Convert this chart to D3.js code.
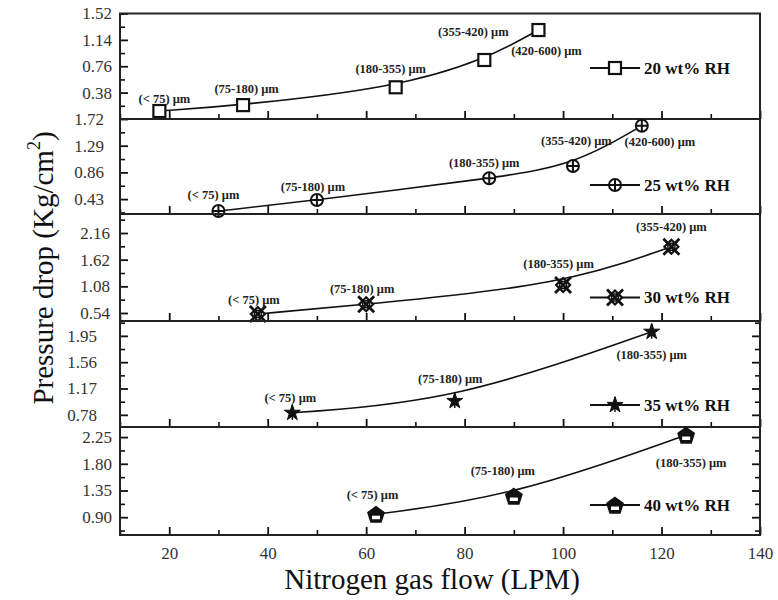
<!DOCTYPE html>
<html><head><meta charset="utf-8">
<script src="https://cdn.jsdelivr.net/npm/d3@7"></script>
<style>body{margin:0;background:#fff}</style>
</head><body><svg id="c" width="778" height="600"></svg>
<script>
// ---------- data ----------
const xMajorTicks = [20, 40, 60, 80, 100, 120, 140];
const xMinorTicks = [10, 30, 50, 70, 90, 110, 130];
const xDomain = [10, 140];

const seriesNames = ["20 wt% RH", "25 wt% RH", "30 wt% RH", "35 wt% RH", "40 wt% RH"];

const flow20 = [18, 35, 66, 84, 95];
const drop20 = [0.115, 0.20, 0.457, 0.85, 1.282];
const size20 = ["(< 75) μm", "(75-180) μm", "(180-355) μm", "(355-420) μm", "(420-600) μm"];

const flow25 = [30, 50, 85, 102, 116];
const drop25 = [0.238, 0.415, 0.765, 0.963, 1.612];
const size25 = ["(< 75) μm", "(75-180) μm", "(180-355) μm", "(355-420) μm", "(420-600) μm"];

const flow30 = [38, 60, 100, 122];
const drop30 = [0.52, 0.716, 1.107, 1.883];
const size30 = ["(< 75) μm", "(75-180) μm", "(180-355) μm", "(355-420) μm"];

const flow35 = [45, 78, 118];
const drop35 = [0.81, 0.985, 2.01];
const size35 = ["(< 75) μm", "(75-180) μm", "(180-355) μm"];

const flow40 = [62, 90, 125];
const drop40 = [0.95, 1.257, 2.285];
const size40 = ["(< 75) μm", "(75-180) μm", "(180-355) μm"];

const yTicks20 = [0.38, 0.76, 1.14, 1.52];
const yTicks25 = [0.43, 0.86, 1.29, 1.72];
const yTicks30 = [0.54, 1.08, 1.62, 2.16];
const yTicks35 = [0.78, 1.17, 1.56, 1.95];
const yTicks40 = [0.90, 1.35, 1.80, 2.25];

const yDomain20 = [0, 1.52];
const yDomain25 = [0.19, 1.72];
const yDomain30 = [0.378, 2.545];
const yDomain35 = [0.60, 2.17];
const yDomain40 = [0.60, 2.42];

// ---------- layout / style ----------
const L = 120, R = 760;
const panels = [
  {flow: flow20, drop: drop20, sizes: size20, ticks: yTicks20, dom: yDomain20, top: 13.5, bot: 119, pad: 8,  marker: "square",
   legY: 68, rightTicks: false,
   off: [[5,-12],[3.5,-16],[-5,-19],[-11,-28],[8,21]]},
  {flow: flow25, drop: drop25, sizes: size25, ticks: yTicks25, dom: yDomain25, top: 119, bot: 214, pad: 16, marker: "circplus",
   legY: 185, rightTicks: false,
   off: [[-5,-16],[-4,-13.5],[-5,-15.5],[3.5,-25],[18,15.5]]},
  {flow: flow30, drop: drop30, sizes: size30, ticks: yTicks30, dom: yDomain30, top: 214, bot: 321, pad: 10, marker: "hash",
   legY: 297.5, rightTicks: false,
   off: [[-4,-14.5],[-4,-16],[-4.5,-21.5],[0,-20]]},
  {flow: flow35, drop: drop35, sizes: size35, ticks: yTicks35, dom: yDomain35, top: 321, bot: 427, pad: 23, marker: "star",
   legY: 405, rightTicks: true,
   off: [[-2,-15],[-4.5,-22.5],[0,22.5]]},
  {flow: flow40, drop: drop40, sizes: size40, ticks: yTicks40, dom: yDomain40, top: 427, bot: 535, pad: 8, marker: "penta",
   legY: 505, rightTicks: true,
   off: [[-3.5,-20],[-11,-25],[5,28]]}
];

const INK = "#111";
const FONT = "Liberation Serif, Times New Roman, serif";
const svg = d3.select("#c");
const x = d3.scaleLinear().domain(xDomain).range([L, R]);

function drawMarker(g, type, cx, cy) {
  const m = g.append("g").attr("transform", `translate(${cx},${cy})`);
  if (type === "square") {
    m.append("rect").attr("x", -6).attr("y", -6).attr("width", 12).attr("height", 12)
      .attr("fill", "#fff").attr("stroke", INK).attr("stroke-width", 2.2);
  } else if (type === "circplus") {
    m.append("circle").attr("r", 6).attr("fill", "#fff").attr("stroke", INK).attr("stroke-width", 2);
    m.append("path").attr("d", "M-6,0H6M0,-6V6").attr("stroke", INK).attr("stroke-width", 2);
  } else if (type === "hash") {
    m.append("path").attr("d", "M0,-7L7,0L0,7L-7,0Z").attr("fill", "#fff").attr("stroke", INK).attr("stroke-width", 2.2);
    m.append("path").attr("d", "M-8,-8L8,8M-8,8L8,-8").attr("stroke", INK).attr("stroke-width", 2.8);
    m.append("path").attr("d", "M-3.5,-3.5L3.5,-3.5L3.5,3.5L-3.5,3.5Z").attr("fill", "none").attr("stroke", INK).attr("stroke-width", 1.4);
  } else if (type === "star") {
    m.append("path").attr("d", d3.symbol().type(d3.symbolStar).size(80)())
      .attr("fill", INK).attr("stroke", INK).attr("stroke-width", 1);
    m.append("path").attr("d", "M0,-8V7").attr("stroke", INK).attr("stroke-width", 1.5);
  } else if (type === "penta") {
    const r = 8.5;
    const pts = d3.range(5).map(i => {
      const a = -Math.PI / 2 + i * 2 * Math.PI / 5;
      return [r * Math.cos(a), r * Math.sin(a) + 1];
    });
    m.append("path").attr("d", "M" + pts.map(p => p.join(",")).join("L") + "Z")
      .attr("fill", INK).attr("stroke", INK).attr("stroke-width", 1.5);
    m.append("rect").attr("x", -4).attr("y", 1.5).attr("width", 8).attr("height", 3.5).attr("fill", "#fff");
  }
}

panels.forEach((p, i) => {
  const y = d3.scaleLinear().domain(p.dom).range([p.bot, p.top]);
  const g = svg.append("g");

  const step = p.ticks[1] - p.ticks[0];
  const minors = [];
  p.ticks.forEach(t => { [t - step / 2, t + step / 2].forEach(v => {
    if (v >= p.dom[0] - 1e-9 && v <= p.dom[1] + 1e-9 && !minors.some(mm => Math.abs(mm - v) < 1e-6)) minors.push(v);
  }); });
  const majorsIn = p.ticks.filter(v => v >= p.dom[0] - 1e-9 && v <= p.dom[1] + 1e-9);

  const ya = g.append("g").attr("transform", `translate(${L},0)`)
    .call(d3.axisLeft(y).tickValues(majorsIn).tickSize(-8).tickPadding(p.pad).tickFormat(d3.format(".2f")));
  ya.select(".domain").remove();
  ya.selectAll("line").attr("stroke", INK).attr("stroke-width", 1.8);
  ya.selectAll("text").attr("font-family", FONT).attr("font-size", 17).attr("fill", "#333");

  const ym = g.append("g").attr("transform", `translate(${L},0)`)
    .call(d3.axisLeft(y).tickValues(minors).tickSize(-5).tickFormat(""));
  ym.select(".domain").remove();
  ym.selectAll("line").attr("stroke", INK).attr("stroke-width", 1.6);

  if (p.rightTicks) {
    const ra = g.append("g").attr("transform", `translate(${R},0)`)
      .call(d3.axisRight(y).tickValues(majorsIn).tickSize(-8).tickFormat(""));
    ra.select(".domain").remove();
    ra.selectAll("line").attr("stroke", INK).attr("stroke-width", 1.8);
    const rm = g.append("g").attr("transform", `translate(${R},0)`)
      .call(d3.axisRight(y).tickValues(minors).tickSize(-5).tickFormat(""));
    rm.select(".domain").remove();
    rm.selectAll("line").attr("stroke", INK).attr("stroke-width", 1.6);
  }

  const last = i === panels.length - 1;
  const xa = g.append("g").attr("transform", `translate(0,${p.bot})`)
    .call(d3.axisBottom(x).tickValues(xMajorTicks).tickSize(-8).tickPadding(12)
      .tickFormat(last ? d3.format("d") : ""));
  xa.select(".domain").remove();
  xa.selectAll("line").attr("stroke", INK).attr("stroke-width", 1.8);
  xa.selectAll("text").attr("font-family", FONT).attr("font-size", 17).attr("fill", "#333");
  const xm = g.append("g").attr("transform", `translate(0,${p.bot})`)
    .call(d3.axisBottom(x).tickValues(xMinorTicks).tickSize(-5).tickFormat(""));
  xm.select(".domain").remove();
  xm.selectAll("line").attr("stroke", INK).attr("stroke-width", 1.6);

  g.append("rect").attr("x", L).attr("y", p.top).attr("width", R - L).attr("height", p.bot - p.top)
    .attr("fill", "none").attr("stroke", "#222").attr("stroke-width", 2);

  const pts = p.flow.map((f, k) => [x(f), y(p.drop[k])]);
  g.append("path").attr("d", d3.line().curve(d3.curveBasis)(pts))
    .attr("fill", "none").attr("stroke", INK).attr("stroke-width", 1.6);

  pts.forEach((pt, k) => {
    drawMarker(g, p.marker, pt[0], pt[1]);
    g.append("text").attr("x", pt[0] + p.off[k][0]).attr("y", pt[1] + p.off[k][1]).attr("dy", "0.35em")
      .attr("text-anchor", "middle").attr("font-family", FONT)
      .attr("font-weight", "bold").attr("font-size", 12.5).attr("fill", "#222").text(p.sizes[k]);
  });

  g.append("line").attr("x1", 590).attr("x2", 640).attr("y1", p.legY).attr("y2", p.legY)
    .attr("stroke", INK).attr("stroke-width", 1.8);
  drawMarker(g, p.marker, 615, p.legY);
  g.append("text").attr("x", 644).attr("y", p.legY).attr("dy", "0.35em")
    .attr("font-family", FONT).attr("font-weight", "bold")
    .attr("font-size", 17).attr("fill", "#111").text(seriesNames[i]);
});

svg.append("text").attr("x", 432).attr("y", 589).attr("text-anchor", "middle")
  .attr("font-family", FONT).attr("font-size", 29).attr("fill", "#111")
  .text("Nitrogen gas flow (LPM)");

const yt = svg.append("text").attr("transform", "translate(53,268) rotate(-90)").attr("text-anchor", "middle")
  .attr("font-family", FONT).attr("font-size", 29).attr("fill", "#111");
yt.append("tspan").text("Pressure drop (Kg/cm");
yt.append("tspan").attr("font-size", 18).attr("dy", "-0.7em").text("2");
yt.append("tspan").attr("dy", "0.45em").text(")");
</script>
</body></html>
